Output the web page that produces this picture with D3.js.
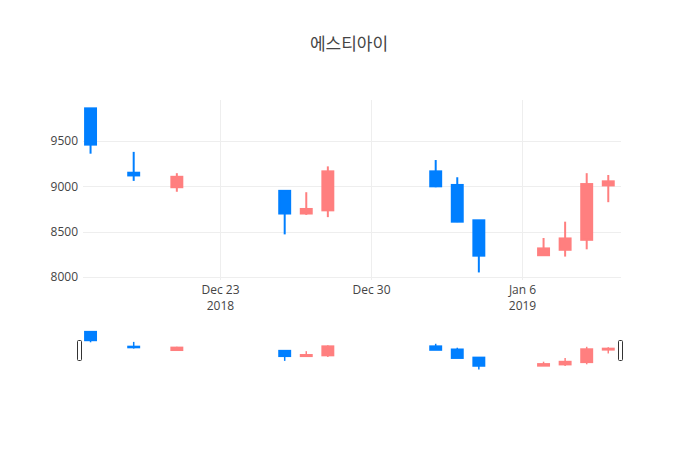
<!DOCTYPE html>
<html>
<head>
<meta charset="utf-8">
<script src="https://cdn.jsdelivr.net/npm/d3@7"></script>
<style>
  body { margin: 0; background: white; }
  text { font-family: "Open Sans", "Noto Sans CJK KR", sans-serif; }
</style>
</head>
<body>
<div id="chart"></div>
<script>
var w = 700;
var h = 450;

// daily prices (missing days are simply absent)
var dates = ["2018-12-17", "2018-12-19", "2018-12-21", "2018-12-26", "2018-12-27", "2018-12-28",
             "2019-01-02", "2019-01-03", "2019-01-04", "2019-01-07", "2019-01-08", "2019-01-09", "2019-01-10"];
var open  = [9860, 9150, 8990, 8950, 8700, 8735, 9165, 9015, 8625, 8240, 8300, 8410, 9010];
var high  = [9860, 9380, 9145, 8950, 8935, 9220, 9290, 9100, 8625, 8430, 8610, 9145, 9125];
var low   = [9360, 9060, 8940, 8470, 8685, 8660, 8990, 8605, 8050, 8240, 8225, 8305, 8825];
var close = [9460, 9120, 9105, 8700, 8750, 9165, 9000, 8610, 8235, 8315, 8425, 9025, 9055];

var yTicks = [8000, 8500, 9000, 9500];
var xTickDates = ["2018-12-23", "2018-12-30", "2019-01-06"];
var xTickLabels = [["Dec 23", "2018"], ["Dec 30", ""], ["Jan 6", "2019"]];

var upColor = "#ff7f7f";
var downColor = "#007fff";
var day = 86400000;

var rows = dates.map(function(d, i) {
    return { date: new Date(d + "T00:00:00Z"), o: open[i], h: high[i], l: low[i], c: close[i] };
});

var svg = d3.select("#chart").append("svg")
    .attr("width", w)
    .attr("height", h)
    .style("background-color", "white");

var first = rows[0].date.getTime();
var last = rows[rows.length - 1].date.getTime();

var x = d3.scaleUtc()
    .domain([new Date(first - 0.35 * day), new Date(last + 0.59 * day)])
    .range([83, 621]);

var y = d3.scaleLinear()
    .domain([7960, 9950])
    .range([280.6, 100.2]);

// range slider uses same y range, squeezed
var ys = d3.scaleLinear()
    .domain([7960, 9950])
    .range([371.5, 330]);

var bodyW = x(new Date(first + 0.6 * day)) - x(new Date(first)) - 2;

// title
svg.append("text")
    .attr("x", 349)
    .attr("y", 50)
    .attr("text-anchor", "middle")
    .attr("fill", "#444")
    .style("font-size", "17px")
    .style("font-family", "'Noto Sans CJK KR', sans-serif")
    .text("에스티아이");

// grid
svg.append("g").selectAll("line")
    .data(yTicks)
    .join("line")
    .attr("x1", 83).attr("x2", 621)
    .attr("y1", function(d) { return Math.round(y(d)) + 0.5; })
    .attr("y2", function(d) { return Math.round(y(d)) + 0.5; })
    .attr("stroke", "#eee");

svg.append("g").selectAll("line")
    .data(xTickDates)
    .join("line")
    .attr("x1", function(d) { return Math.round(x(new Date(d + "T00:00:00Z"))) + 0.5; })
    .attr("x2", function(d) { return Math.round(x(new Date(d + "T00:00:00Z"))) + 0.5; })
    .attr("y1", 100).attr("y2", 280)
    .attr("stroke", "#eee");

// y axis labels
var yAxis = svg.append("g")
    .attr("transform", "translate(83,0)")
    .call(d3.axisLeft(y).tickValues(yTicks).tickSize(0).tickPadding(5).tickFormat(d3.format("d")));
yAxis.select(".domain").remove();
yAxis.selectAll("text").attr("fill", "#444").style("font-size", "12px")
    .style("font-family", "'Open Sans', sans-serif");

// x axis labels
var xAxis = svg.append("g")
    .attr("transform", "translate(0,280)")
    .call(d3.axisBottom(x)
        .tickValues(xTickDates.map(function(d) { return new Date(d + "T00:00:00Z"); }))
        .tickSize(0).tickPadding(6).tickFormat(function() { return ""; }));
xAxis.select(".domain").remove();
xAxis.selectAll(".tick text").each(function(d, i) {
    var t = d3.select(this).attr("fill", "#444").attr("y", 10).style("font-size", "12px")
        .style("font-family", "'Open Sans', sans-serif");
    t.append("tspan").attr("x", 0).attr("dy", "0.35em").text(xTickLabels[i][0]);
    t.append("tspan").attr("x", 0).attr("dy", "1.35em").text(xTickLabels[i][1]);
});

function drawCandles(g, yScale, wickW) {
    var c = g.selectAll("g.candle")
        .data(rows)
        .join("g")
        .attr("class", "candle");
    c.append("line")
        .attr("x1", function(d) { return x(d.date); })
        .attr("x2", function(d) { return x(d.date); })
        .attr("y1", function(d) { return yScale(d.h); })
        .attr("y2", function(d) { return yScale(d.l); })
        .attr("stroke", function(d) { return d.c > d.o ? upColor : downColor; })
        .attr("stroke-width", wickW);
    c.append("rect")
        .attr("x", function(d) { return x(d.date) - bodyW / 2; })
        .attr("width", bodyW)
        .attr("y", function(d) { return yScale(Math.max(d.o, d.c)); })
        .attr("height", function(d) { return Math.max(0.5, Math.abs(yScale(d.o) - yScale(d.c))); })
        .attr("fill", function(d) { return d.c > d.o ? upColor : downColor; })
        .attr("stroke", function(d) { return d.c > d.o ? upColor : downColor; })
        .attr("stroke-width", 2);
}

svg.append("clipPath").attr("id", "plotclip")
    .append("rect").attr("x", 83).attr("y", 100).attr("width", 538).attr("height", 180);

drawCandles(svg.append("g").attr("clip-path", "url(#plotclip)"), y, 2);

// range slider
svg.append("clipPath").attr("id", "sliderclip")
    .append("rect").attr("x", 83).attr("y", 329).attr("width", 538).attr("height", 43);
drawCandles(svg.append("g").attr("clip-path", "url(#sliderclip)"), ys, 1.5);

var handles = [77.5, 618.5];
svg.append("g").selectAll("rect")
    .data(handles)
    .join("rect")
    .attr("x", function(d) { return d; })
    .attr("y", 340.5)
    .attr("width", 4)
    .attr("height", 20)
    .attr("rx", 1)
    .attr("fill", "white")
    .attr("stroke", "#333")
    .attr("stroke-width", 1);
</script>
</body>
</html>
